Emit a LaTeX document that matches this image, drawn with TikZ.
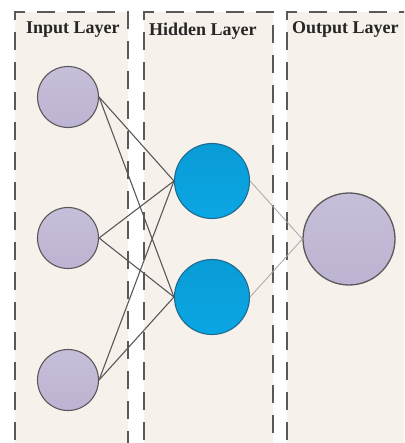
\documentclass[tikz,border=0pt]{standalone}
\usepackage{fontspec}
\setmainfont{Liberation Serif}
\begin{document}
\begin{tikzpicture}[x=1pt,y=-1pt,
  layerline/.style={draw=black!65, line width=1.4pt, dash pattern=on 18pt off 12pt},
  layertitle/.style={font=\bfseries\fontsize{18}{20}\selectfont, anchor=north west, inner sep=0pt, text=black!85},
  innode/.style={circle, draw=black!65, line width=1.1pt, inner sep=0pt, minimum size=61pt, top color=lav!85!white, bottom color=lav},
  hidnode/.style={circle, draw=hidborder, line width=1.1pt, inner sep=0pt, minimum size=75pt, top color=hidblue!94!black, bottom color=hidblue},
  outnode/.style={circle, draw=black!65, line width=1.3pt, inner sep=0pt, minimum size=92pt, top color=lav!85!white, bottom color=lav},
  wdark/.style={draw=black!65, line width=1.1pt},
  wlight/.style={draw=black!35, line width=0.8pt}]
\definecolor{boxfill}{HTML}{F7F1EB}
\definecolor{lav}{HTML}{BDB3D2}
\definecolor{hidblue}{HTML}{0AA6E4}
\definecolor{hidborder}{HTML}{1E6A90}
\useasboundingbox (0,0) rectangle (404,443);
\clip (0,0) rectangle (404,443);
\fill[white] (0,0) rectangle (404,443);

% layer panels
\fill[boxfill] (15,12) rectangle (128,470);
\fill[boxfill] (144,12) rectangle (273,470);
\fill[boxfill] (287,12) rectangle (420,470);
\draw[layerline] (15,470) -- (15,12) -- (128,12) -- (128,470);
\draw[layerline] (144,470) -- (144,12) -- (273,12) -- (273,470);
\draw[layerline] (287,470) -- (287,12) -- (420,12);

\node[layertitle] (tin)  at (26,22)  {Input Layer};
\node[layertitle] (thid) at (149,23) {Hidden Layer};
\node[layertitle] (tout) at (292,21) {Output Layer};

% neurons
\node[innode] (i1) at (68,97) {};
\node[innode] (i2) at (68,238) {};
\node[innode] (i3) at (68,380) {};
\node[hidnode] (h1) at (212,181) {};
\node[hidnode] (h2) at (212,297) {};
\node[outnode] (o1) at (349,239) {};

% weights
\foreach \i in {i1,i2,i3}{
  \foreach \h in {h1,h2}{
    \draw[wdark] (\i.east) -- (\h.west);
  }
}
\draw[wlight] (h1.east) -- (o1.west);
\draw[wlight] (h2.east) -- (o1.west);
\end{tikzpicture}
\end{document}
